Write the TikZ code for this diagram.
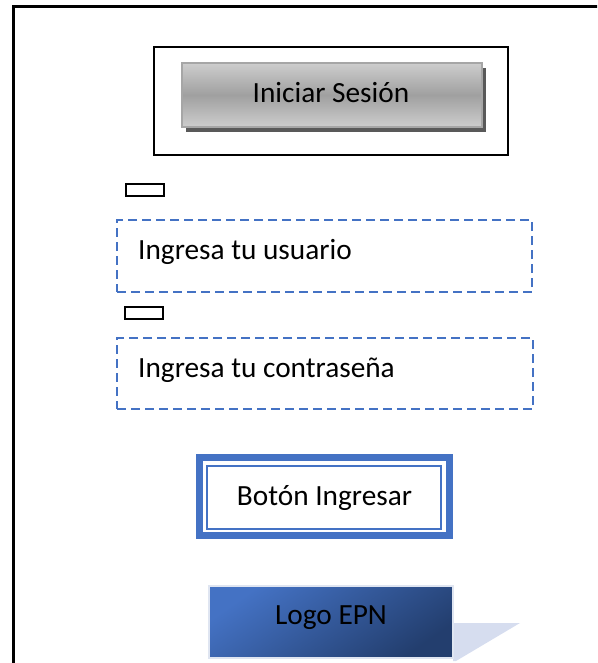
\documentclass[tikz,border=0pt]{standalone}
\usepackage{fontspec}
\setmainfont{Carlito}
\definecolor{accent}{HTML}{4472C4}
\definecolor{navy}{HTML}{1F3864}
\definecolor{btnlight}{HTML}{CDCDCD}
\definecolor{btnmid}{HTML}{A0A0A0}
\definecolor{btnedge}{HTML}{A6A6A6}
\definecolor{btnshadow}{HTML}{595959}
\definecolor{logoedge}{HTML}{DFE5F1}
\definecolor{logoshadow}{HTML}{D6DDEF}
\tikzset{
  label text/.style={inner sep=0pt, font=\fontsize{29.3}{34}\selectfont},
  inputbox/.style={draw=accent, line width=2pt, dash pattern=on 9pt off 5pt},
  tag/.style={draw, line width=2pt, inner sep=0pt, minimum width=38pt, minimum height=12pt}
}
\begin{document}
\begin{tikzpicture}[x=1pt,y=-1pt]
\useasboundingbox (0,0) rectangle (597,663);
\clip (0,0) rectangle (597,663);

% page frame (runs off the right and bottom edges)
\node[draw, line width=3pt, inner sep=0pt, anchor=north west,
      minimum width=640pt, minimum height=700pt] (page) at (12,5) {};

% header panel with the title button
\node[draw, line width=2.2pt, inner sep=0pt, minimum width=354pt, minimum height=108pt] (head) at (331,101) {};
\node[fill=btnshadow, inner sep=0pt, minimum width=300pt, minimum height=64pt] (titleshadow) at (335.5,100.5) {};
\node[draw=btnedge, line width=1.5pt, inner sep=0pt, minimum width=300pt, minimum height=64pt,
      top color=btnlight, bottom color=btnlight, middle color=btnmid] (titlebtn) at (332,95) {};
\node[label text, anchor=base] (title) at (331,103) {Iniciar Sesión};

% user field
\node[tag] (usertag) at (145,189.5) {};
\node[inputbox, inner sep=0pt, minimum width=415pt, minimum height=72pt] (userbox) at (324.5,256) {};
\node[label text, anchor=base west] (usertext) at (138,259) {Ingresa tu usuario};

% password field
\node[tag] (passtag) at (143.5,313) {};
\node[inputbox, inner sep=0pt, minimum width=416pt, minimum height=71pt] (passbox) at (325,373.5) {};
\node[label text, anchor=base west] (passtext) at (138,377) {Ingresa tu contraseña};

% login button with double blue border
\node[draw=accent, line width=7pt, inner sep=0pt, minimum width=249.5pt, minimum height=78pt] (loginouter) at (324.25,496.5) {};
\node[draw=accent, line width=1.3pt, inner sep=0pt, minimum width=234pt, minimum height=63pt] (logininner) at (324,497.5) {};
\node[label text, anchor=base] (logintext) at (324.5,505) {Botón Ingresar};

% logo block with perspective shadow
\coordinate (s1) at (453,623);
\coordinate (s2) at (520,623);
\coordinate (s3) at (456,661);
\coordinate (s4) at (453,661);
\fill[logoshadow] (s1) -- (s2) -- (s3) -- (s4) -- cycle;
\node[draw=logoedge, line width=2pt, inner sep=0pt, minimum width=244pt, minimum height=72pt,
      shading=axis, top color=accent, bottom color=navy!90!accent, shading angle=35] (logo) at (331,622) {};
\node[label text, anchor=base] (logotext) at (331,624) {Logo EPN};
\end{tikzpicture}
\end{document}
